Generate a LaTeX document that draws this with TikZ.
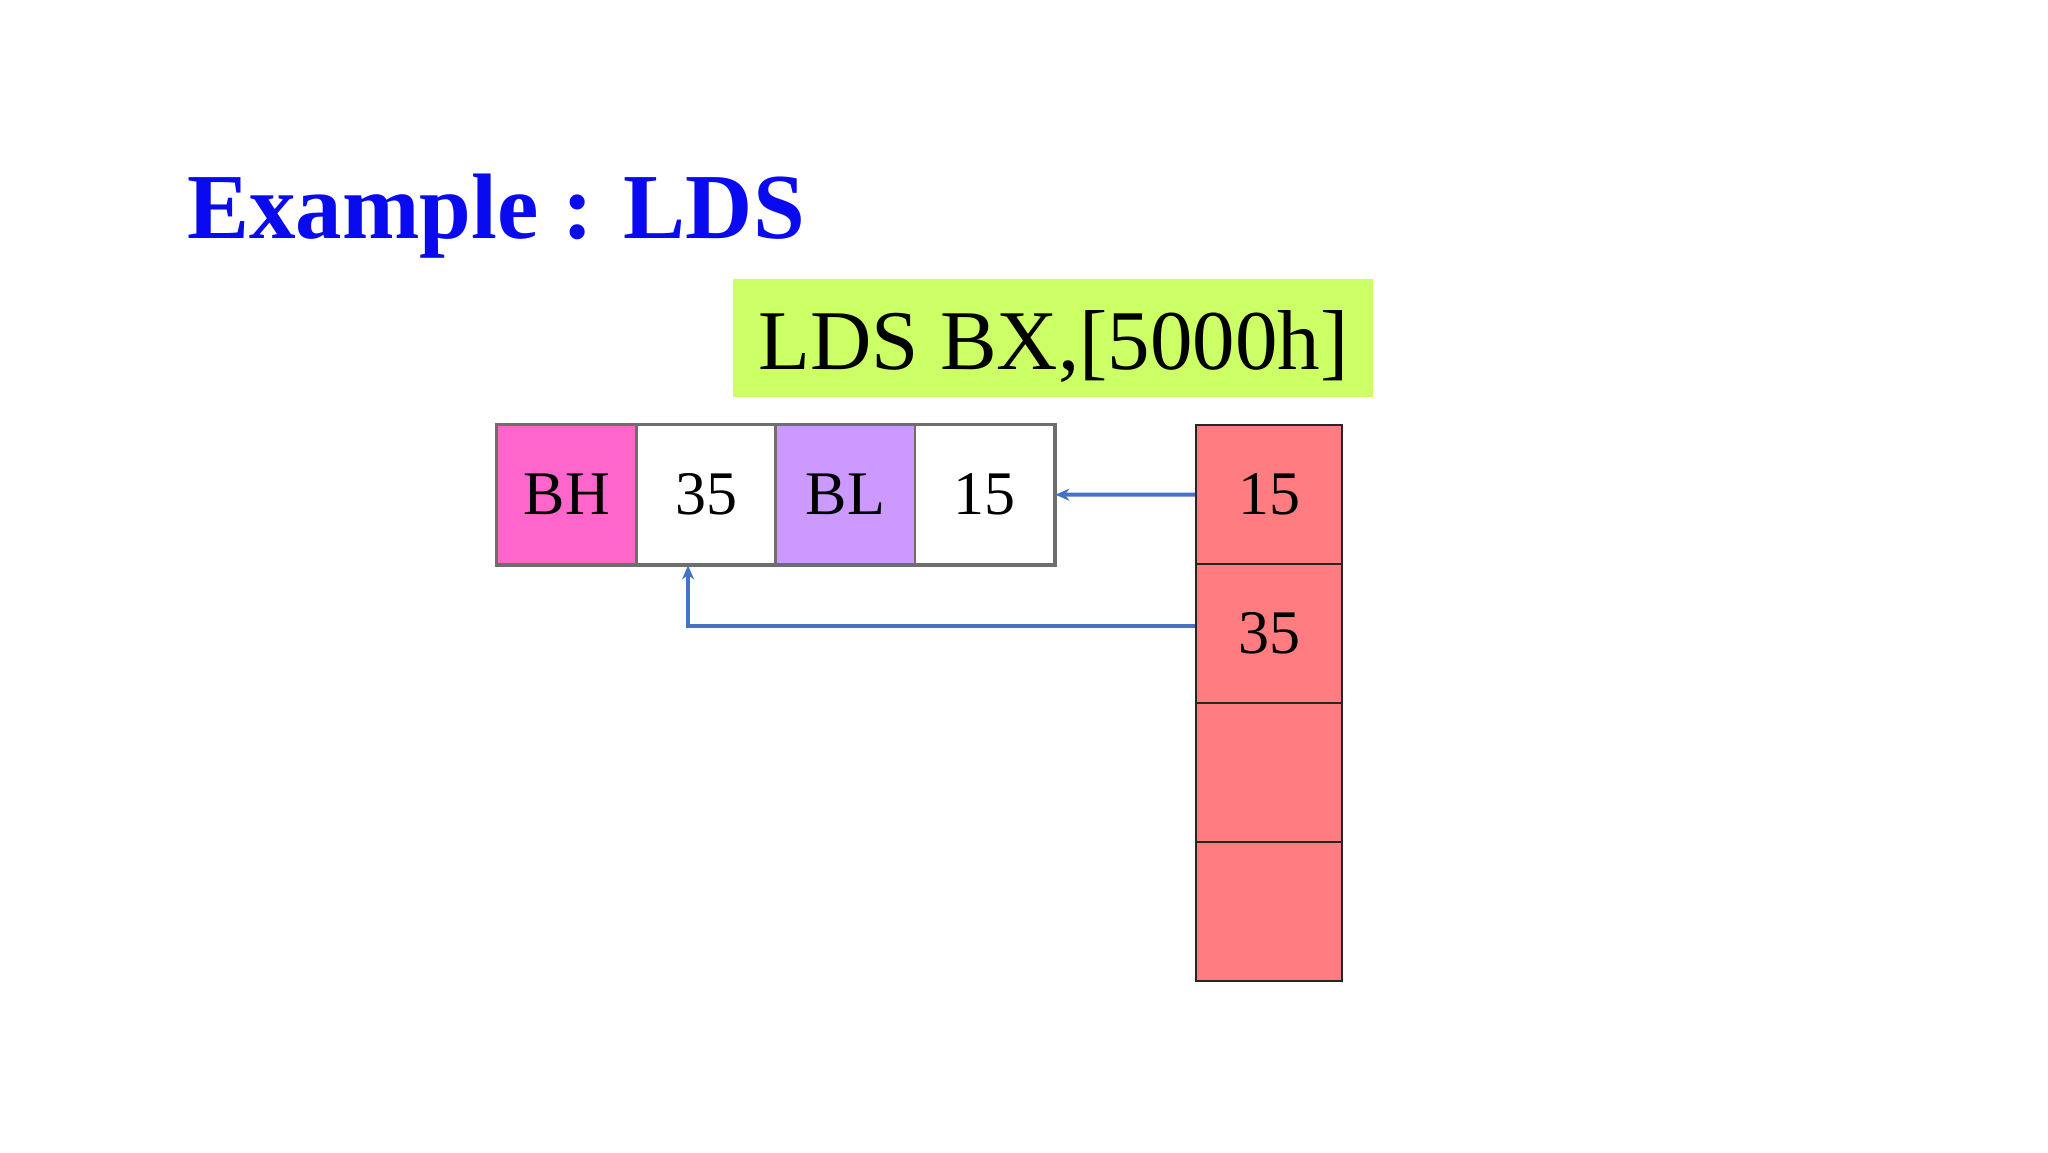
\documentclass[tikz,border=0pt]{standalone}
\usepackage{fontspec}
\setmainfont{Liberation Serif}
\usetikzlibrary{arrows.meta,calc}
\definecolor{titleblue}{HTML}{0A0AF0}
\definecolor{cmdgreen}{HTML}{CCFF66}
\definecolor{bhpink}{HTML}{FF66CC}
\definecolor{blviolet}{HTML}{CC99FF}
\definecolor{memred}{HTML}{FF7C80}
\definecolor{arrowblue}{HTML}{4472C4}
\definecolor{reggray}{HTML}{6E6E6E}
\begin{document}
\begin{tikzpicture}[x=0.5pt,y=-0.5pt,
  regcell/.style={draw=reggray,line width=1.2pt,minimum width=69.6pt,minimum height=69.5pt,inner sep=0pt,anchor=north west,font=\fontsize{31}{31}\selectfont},
  memcell/.style={draw=black!85,fill=memred,line width=1pt,minimum width=73pt,minimum height=69.5pt,inner sep=0pt,anchor=north west,font=\fontsize{31}{31}\selectfont},
  link/.style={draw=arrowblue,line width=2pt,-{Stealth[length=7pt,width=6pt]}}]
\useasboundingbox (0,0) rectangle (2048,1152);
\fill[white] (0,0) rectangle (2048,1152);
\node[anchor=base west,inner sep=0pt,text=titleblue,font=\fontsize{46.5}{46.5}\selectfont\bfseries] (title) at (187,238) {Example : LDS};
\node[fill=cmdgreen,minimum width=320pt,minimum height=59pt,inner sep=0pt,anchor=north west] (cmd) at (733,279) {};
\node[inner sep=0pt,font=\fontsize{42.5}{42.5}\selectfont] (cmdtext) at ($(cmd.center)+(0,8)$) {LDS BX,[5000h]};
\node[regcell,fill=bhpink] (r1) at (496,424) {BH};
\node[regcell,fill=white] (r2) at (635.25,424) {35};
\node[regcell,fill=blviolet] (r3) at (774.5,424) {BL};
\node[regcell,fill=white] (r4) at (913.75,424) {15};
\draw[reggray,line width=1.2pt] (r1.north west) rectangle (r4.south east);
\node[memcell] (m1) at (1195,424) {15};
\node[memcell] (m2) at (1195,563) {35};
\node[memcell] (m3) at (1195,702) {};
\node[memcell] (m4) at (1195,841) {};
\draw[link] (m1.west) -- (r4.east);
\coordinate (s2) at ($(m2.west)+(0,-8)$);
\coordinate (e2) at ($(r2.south)+(-18,0)$);
\draw[link] (s2) -| (e2);
\end{tikzpicture}
\end{document}
